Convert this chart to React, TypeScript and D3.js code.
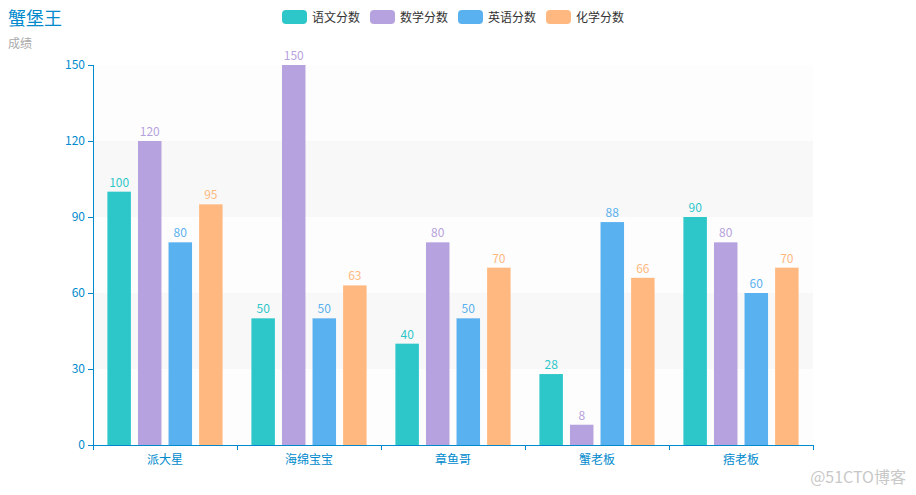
import React from "react";
import * as d3 from "d3";

const categories = ["派大星", "海绵宝宝", "章鱼哥", "蟹老板", "痞老板"];
const seriesNames = ["语文分数", "数学分数", "英语分数", "化学分数"];
const chinese = [100, 50, 40, 28, 90];
const math = [120, 150, 80, 8, 80];
const english = [80, 50, 50, 88, 60];
const chemistry = [95, 63, 70, 66, 70];
const yTicks = [0, 30, 60, 90, 120, 150];
const colors = ["#2ec7c9", "#b6a2de", "#5ab1ef", "#ffb980"];

const W = 916, H = 495;
const M = { left: 93, right: 813, top: 65, bottom: 445 };
const FONT = "'Noto Sans CJK SC', 'Microsoft YaHei', sans-serif";
const AXIS = "#008acd";

export default function App() {
  const series = [chinese, math, english, chemistry];
  const x = d3.scaleBand<string>().domain(categories).range([M.left, M.right]).paddingInner(0).paddingOuter(0);
  const y = d3.scaleLinear().domain([0, 150]).range([M.bottom, M.top]);
  const bw = x.bandwidth();
  const barW = (bw * 0.8) / 4.9;
  const barX = (i: number) => bw * 0.1 + i * barW * 1.3;

  const legendX = [282, 370, 458, 546];

  return (
    <svg width={W} height={H} style={{ position: "absolute", left: 0, top: 0, fontFamily: FONT }}>
      <rect width={W} height={H} fill="#fff" />
      {yTicks.slice(0, -1).map((t, i) => (
        <rect key={"sa" + i} x={M.left} y={y(yTicks[i + 1])} width={M.right - M.left} height={y(t) - y(yTicks[i + 1])}
          fill={i % 2 === 0 ? "rgba(250,250,250,0.3)" : "rgba(200,200,200,0.12)"} />
      ))}
      <text x={8} y={25} fontSize={18} fill={AXIS}>蟹堡王</text>
      <text x={8} y={48} fontSize={12} fill="#aaa">成绩</text>
      {seriesNames.map((n, i) => (
        <g key={n}>
          <rect x={legendX[i]} y={10} width={25} height={14} rx={4} fill={colors[i]} />
          <text x={legendX[i] + 30} y={21.5} fontSize={12} fill="#333">{n}</text>
        </g>
      ))}
      {categories.map((c, ci) => (
        <g key={c} transform={`translate(${x(c)},0)`}>
          {series.map((s, si) => (
            <g key={si}>
              <rect x={barX(si)} y={y(s[ci])} width={barW} height={y(0) - y(s[ci])} fill={colors[si]} />
              <text x={barX(si) + barW / 2} y={y(s[ci]) - 5} textAnchor="middle" fontSize={12} fill={colors[si]}>{s[ci]}</text>
            </g>
          ))}
        </g>
      ))}
      <line x1={M.left + 0.5} x2={M.left + 0.5} y1={M.top} y2={M.bottom} stroke={AXIS} />
      {yTicks.map((t) => (
        <g key={t}>
          <line x1={M.left - 5} x2={M.left} y1={Math.round(y(t)) + 0.5} y2={Math.round(y(t)) + 0.5} stroke={AXIS} />
          <text x={M.left - 8} y={y(t) + 4} textAnchor="end" fontSize={12} fill={AXIS}>{t}</text>
        </g>
      ))}
      <line x1={M.left} x2={M.right} y1={M.bottom + 0.5} y2={M.bottom + 0.5} stroke={AXIS} />
      {[...categories.map((c) => x(c)!), M.right].map((px, i) => (
        <line key={"xt" + i} x1={Math.round(px) + 0.5} x2={Math.round(px) + 0.5} y1={M.bottom} y2={M.bottom + 5} stroke={AXIS} />
      ))}
      {categories.map((c) => (
        <text key={"xl" + c} x={x(c)! + bw / 2} y={M.bottom + 19} textAnchor="middle" fontSize={12} fill={AXIS}>{c}</text>
      ))}
      <text x={906} y={483} textAnchor="end" fontSize={16} fill="#c8c8c8">@51CTO博客</text>
    </svg>
  );
}
